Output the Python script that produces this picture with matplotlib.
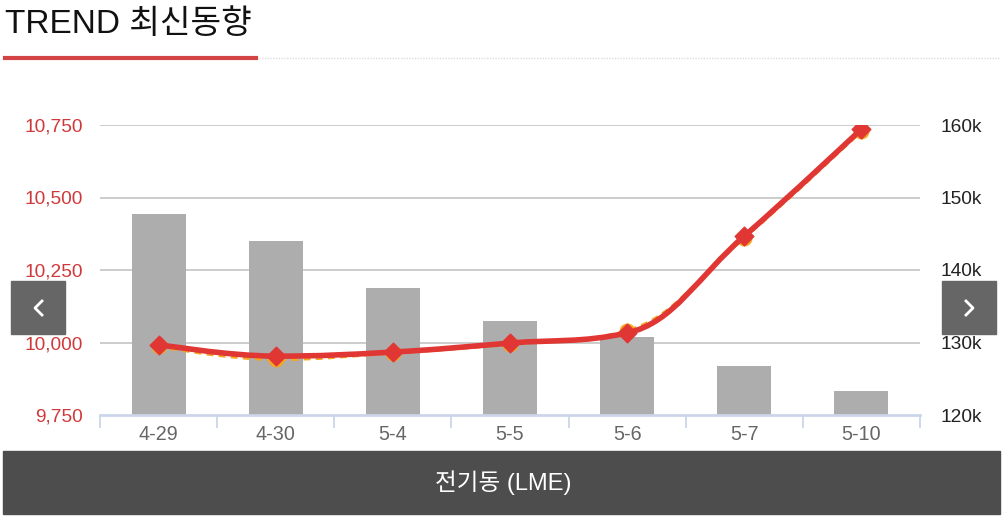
import numpy as np
import matplotlib
matplotlib.use("Agg")
from matplotlib import pyplot as plt
from matplotlib.path import Path
from matplotlib.patches import PathPatch, Rectangle
from matplotlib.ticker import FuncFormatter, FixedLocator

plt.rcParams['font.family'] = ['Liberation Sans', 'Noto Sans CJK KR', 'DejaVu Sans']

dates = ['4-29', '4-30', '5-4', '5-5', '5-6', '5-7', '5-10']
price = [9993, 9953, 9967, 9998, 10033, 10367, 10736]      # red line
price2 = [9987, 9942, 9964, 9995, 10040, 10362, 10730]     # orange dotted
stock = [147.7, 144.0, 137.5, 133.0, 130.8, 126.8, 123.3]  # bars, k tonnes

left_ticks = [9750, 10000, 10250, 10500, 10750]
right_ticks = [120, 130, 140, 150, 160]

W, H = 1007, 519


def fx(px):
    return px / W


def fy(py):
    return 1 - py / H


def spline_path(xs, ys, smoothing=1.5):
    # highcharts-style bezier control points
    n = len(xs)
    denom = smoothing + 1
    lc = [(xs[i], ys[i]) for i in range(n)]
    rc = [(xs[i], ys[i]) for i in range(n)]
    for i in range(1, n - 1):
        lx = (smoothing * xs[i] + xs[i - 1]) / denom
        ly = (smoothing * ys[i] + ys[i - 1]) / denom
        rx = (smoothing * xs[i] + xs[i + 1]) / denom
        ry = (smoothing * ys[i] + ys[i + 1]) / denom
        corr = ((ry - ly) * (rx - xs[i])) / (rx - lx) + ys[i] - ry
        ly += corr
        ry += corr
        if ly > max(ys[i - 1], ys[i]):
            ly = max(ys[i - 1], ys[i])
            ry = 2 * ys[i] - ly
        elif ly < min(ys[i - 1], ys[i]):
            ly = min(ys[i - 1], ys[i])
            ry = 2 * ys[i] - ly
        if ry > max(ys[i + 1], ys[i]):
            ry = max(ys[i + 1], ys[i])
            ly = 2 * ys[i] - ry
        elif ry < min(ys[i + 1], ys[i]):
            ry = min(ys[i + 1], ys[i])
            ly = 2 * ys[i] - ry
        lc[i] = (lx, ly)
        rc[i] = (rx, ry)
    verts = [(xs[0], ys[0])]
    codes = [Path.MOVETO]
    for i in range(1, n):
        verts += [rc[i - 1], lc[i], (xs[i], ys[i])]
        codes += [Path.CURVE4] * 3
    return Path(verts, codes)


fig = plt.figure(figsize=(W / 100, H / 100), dpi=100)

ax = fig.add_axes([fx(100), fy(415), fx(920) - fx(100), fy(125) - fy(415)])
axr = ax.twinx()
ax.set_zorder(axr.get_zorder() + 1)
ax.patch.set_visible(False)

x = np.arange(len(dates))

# bars on right axis
axr.bar(x, stock, width=0.46, color='#adadad', zorder=2)
axr.set_ylim(120, 160)
axr.set_yticks(right_ticks)
axr.yaxis.set_major_formatter(FuncFormatter(lambda v, p: '%dk' % v))
axr.tick_params(axis='y', length=0, pad=15, labelsize=13.8, labelcolor='#222222')

# lines on left axis
ax.set_xlim(-0.5, len(dates) - 0.5)
ax.set_ylim(9750, 10750)
ax.set_yticks(left_ticks)
ax.yaxis.set_major_formatter(FuncFormatter(lambda v, p: '{:,.0f}'.format(v)))
ax.tick_params(axis='y', length=0, pad=12, labelsize=13.8, labelcolor='#d0393b')

for a in (ax, axr):
    for s in a.spines.values():
        s.set_visible(False)
axr.set_xticks([])

# grid drawn under bars
for t in right_ticks[1:]:
    axr.axhline(t, color='#c8c8c8', lw=1.3, zorder=1)

ax.spines['bottom'].set_visible(True)
ax.spines['bottom'].set_color('#ccd6eb')
ax.spines['bottom'].set_linewidth(2)
ax.set_xticks(x)
ax.set_xticklabels(dates)
ax.xaxis.set_minor_locator(FixedLocator(np.arange(-0.5, len(dates), 1.0)))
ax.tick_params(axis='x', which='major', length=0, pad=7, labelsize=14.2, labelcolor='#666666')
ax.tick_params(axis='x', which='minor', length=9, width=1.3, color='#ccd6eb')

p2 = spline_path(list(x), price2)
ax.add_patch(PathPatch(p2, fill=False, edgecolor='#f5a623', lw=2.5, linestyle=(0, (2, 1.5)), zorder=3))
ax.scatter(x, price2, s=110, marker='o', color='#f5a623', zorder=4)

p1 = spline_path(list(x), price)
ax.add_patch(PathPatch(p1, fill=False, edgecolor='#e03634', lw=4, capstyle='round', zorder=5))
ax.scatter(x, price, s=90, marker='D', color='#e03634', zorder=6)

# title and underline
fig.text(fx(5), fy(25), 'TREND 최신동향', fontsize=24, color='#111111', va='center', ha='left')
fig.add_artist(plt.Line2D([fx(256), fx(1000)], [fy(58), fy(58)], color='#dddddd', lw=1, ls=(0, (1, 1))))
fig.add_artist(plt.Line2D([fx(5), fx(256)], [fy(58), fy(58)], color='#d24343', lw=3))

# nav buttons
for bx in (11, 942):
    fig.add_artist(Rectangle((fx(bx), fy(334)), fx(54), fy(281) - fy(334), color='#666666', zorder=10))
fig.add_artist(plt.Line2D([fx(42), fx(35), fx(42)], [fy(301), fy(308), fy(315)], color='white', lw=2, zorder=11))
fig.add_artist(plt.Line2D([fx(966), fx(973), fx(966)], [fy(301), fy(308), fy(315)], color='white', lw=2, zorder=11))

# bottom bar
fig.add_artist(Rectangle((fx(3), fy(514)), fx(997), fy(451) - fy(514), color='#4d4d4d', zorder=10))
fig.text(fx(503), fy(483), '전기동 (LME)', fontsize=17, color='white', ha='center', va='center', zorder=11)

fig.savefig('out.png', dpi=100)
